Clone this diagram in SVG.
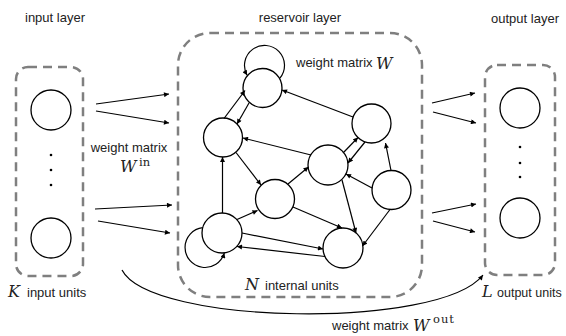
<svg xmlns="http://www.w3.org/2000/svg" width="566" height="336" viewBox="0 0 566 336">
<defs>
<marker id="ah" viewBox="0 0 10 10" refX="10" refY="5" markerWidth="7" markerHeight="5" markerUnits="userSpaceOnUse" orient="auto">
<path d="M0,0 L10,5 L0,10 z" fill="#000"/>
</marker>
</defs>
<style>
.box{fill:none;stroke:#7f7f7f;stroke-width:2.5;stroke-dasharray:9 6}
.n{fill:#fff;stroke:#000;stroke-width:1.3}
.e{fill:none;stroke:#000;stroke-width:1.2;marker-end:url(#ah)}
.t{font-family:"Liberation Sans",Arial,sans-serif;font-size:13px;fill:#222}
.m{font-family:"DejaVu Serif","Liberation Serif",serif;font-style:italic;font-size:16px;fill:#222}
.s{font-family:"DejaVu Serif","Liberation Serif",serif;font-size:11.5px;fill:#222}
.dot{fill:#000}
</style>
<rect width="566" height="336" fill="#fff"/>

<g id="input-layer">
<rect class="box" x="16" y="67" width="67" height="209" rx="12"/>
<circle class="n" cx="51" cy="110" r="20"/>
<circle class="n" cx="51" cy="238" r="20"/>
<circle class="dot" cx="51" cy="155" r="1.3"/>
<circle class="dot" cx="51" cy="170" r="1.3"/>
<circle class="dot" cx="51" cy="185" r="1.3"/>
<text class="t" x="55" y="22" text-anchor="middle">input layer</text>
<text class="m" x="8" y="297">K</text>
<text class="t" x="27" y="297">input units</text>
</g>

<g id="reservoir-layer">
<rect class="box" x="178" y="33" width="244" height="264" rx="32"/>
<text class="t" x="300" y="22" text-anchor="middle">reservoir layer</text>
<text class="t" x="296" y="67">weight matrix</text>
<text class="m" x="376" y="69">W</text>
<text class="m" x="245" y="290">N</text>
<text class="t" x="265" y="290">internal units</text>
<g id="unit-A"><circle class="n" cx="262.5" cy="88" r="19.5"/></g>
<g id="unit-B"><circle class="n" cx="223" cy="137.5" r="19.5"/></g>
<g id="unit-C"><circle class="n" cx="371.5" cy="123.5" r="19.5"/></g>
<g id="unit-D"><circle class="n" cx="328" cy="165" r="20"/></g>
<g id="unit-E"><circle class="n" cx="275" cy="199" r="19.5"/></g>
<g id="unit-F"><circle class="n" cx="391.5" cy="190" r="19.5"/></g>
<g id="unit-G"><circle class="n" cx="222" cy="233" r="20"/></g>
<g id="unit-H"><circle class="n" cx="343" cy="248" r="20"/></g>
</g>

<g id="output-layer">
<rect class="box" x="485" y="65" width="70" height="210" rx="12"/>
<circle class="n" cx="520" cy="108" r="20"/>
<circle class="n" cx="520" cy="218" r="20"/>
<circle class="dot" cx="520" cy="147" r="1.3"/>
<circle class="dot" cx="520" cy="163" r="1.3"/>
<circle class="dot" cx="520" cy="177" r="1.3"/>
<text class="t" x="525" y="23" text-anchor="middle">output layer</text>
<text class="m" x="482" y="297">L</text>
<text class="t" x="497" y="297" style="font-size:12.5px">output units</text>
</g>

<g id="labels">
<text class="t" x="129" y="152" text-anchor="middle">weight matrix</text>
<text class="m" x="120" y="172">W</text>
<text class="s" x="139" y="166">in</text>
<text class="t" x="332" y="330">weight matrix</text>
<text class="m" x="413" y="331">W</text>
<text class="s" x="433" y="323" letter-spacing="1">out</text>
</g>

<g id="connectors">
<path class="e" d="M96,104 L169,94"/>
<path class="e" d="M96,111 L169,123"/>
<path class="e" d="M95,209 L172,205"/>
<path class="e" d="M98,221 L170,233"/>
<path class="e" d="M432,103 L475,93"/>
<path class="e" d="M433,112 L476,123"/>
<path class="e" d="M432,213 L476,204"/>
<path class="e" d="M433,221 L475,232"/>
<path class="e" d="M122,270 C150,325 440,330 483,275"/>
<path class="e" d="M279.9,78.2 A20,20 0 1 0 247.1,75.3"/>
<path class="e" d="M202.7,227.6 A20,20 0 1 0 224.3,252.9"/>
<path class="e" d="M224,118.5 L245,90.5"/>
<path class="e" d="M249,103 L237,124"/>
<path class="e" d="M353,117 L282,90"/>
<path class="e" d="M311,155 L243,138"/>
<path class="e" d="M343,153 L358,137.5"/>
<path class="e" d="M365,142 L348,163"/>
<path class="e" d="M391,170.5 L385.5,143"/>
<path class="e" d="M236,152.5 L261,185"/>
<path class="e" d="M222.5,213 L222.5,157"/>
<path class="e" d="M288,184 L308.5,167"/>
<path class="e" d="M372,188 L346,174"/>
<path class="e" d="M342,180 L356,233"/>
<path class="e" d="M390,209.5 L362.5,246"/>
<path class="e" d="M237,219.5 L257.5,210.5"/>
<path class="e" d="M293,207 L342,228"/>
<path class="e" d="M242,233 L323,249"/>
<path class="e" d="M325,256.5 L237,246.5"/>
</g>
</svg>
